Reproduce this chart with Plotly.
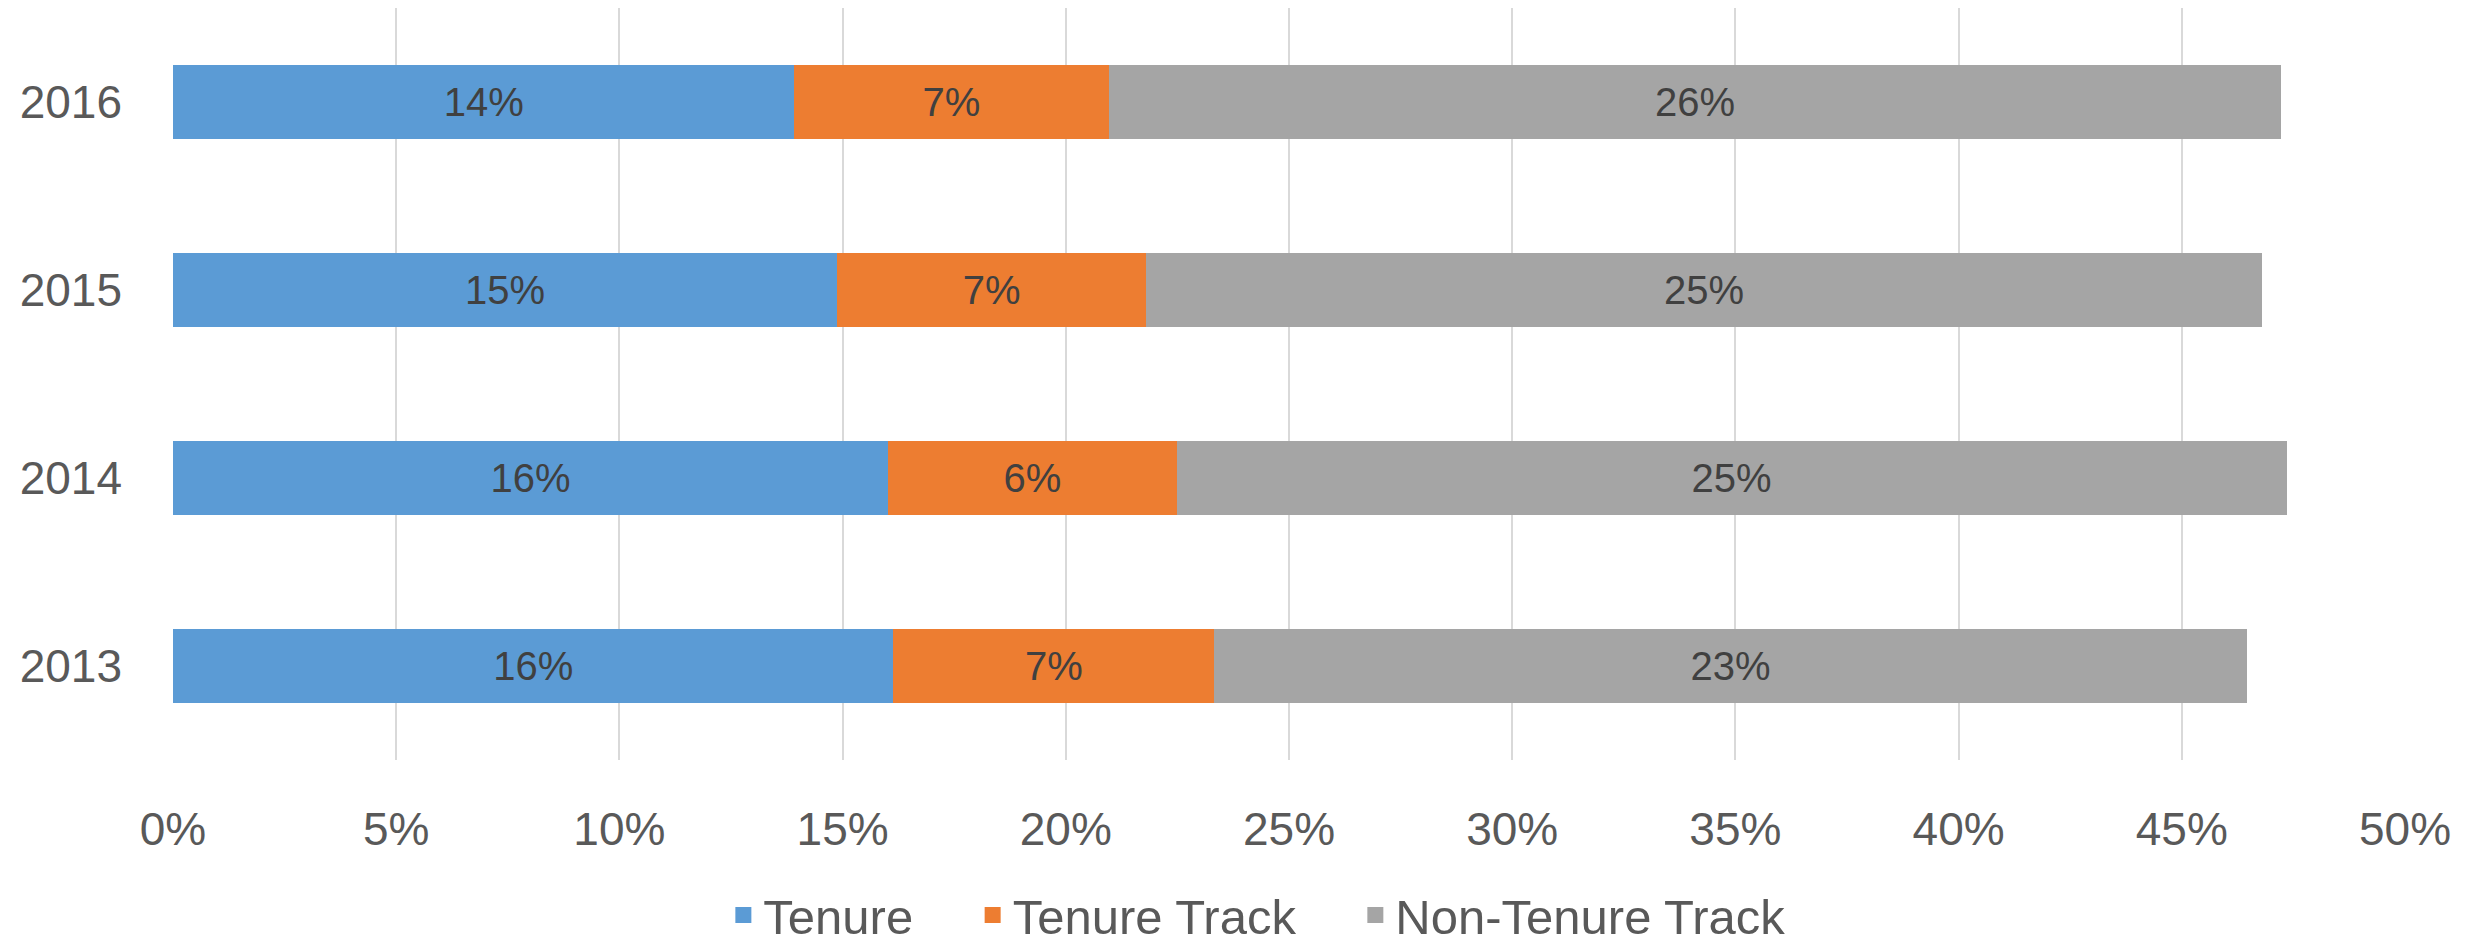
import plotly.graph_objects as go

years = ["2013", "2014", "2015", "2016"]
tenure = [0.1614, 0.1602, 0.1488, 0.1392]
tenure_track = [0.0719, 0.0646, 0.0692, 0.0704]
non_tenure_track = [0.2312, 0.2487, 0.2500, 0.2627]

series_names = ["Tenure", "Tenure Track", "Non-Tenure Track"]
series_values = [tenure, tenure_track, non_tenure_track]
series_colors = ["#5B9BD5", "#ED7D31", "#A5A5A5"]

FONT = "Liberation Sans, Arial, sans-serif"
NBSP = "\u00a0"

fig = go.Figure()
for name, vals, color in zip(series_names, series_values, series_colors):
    fig.add_trace(go.Bar(
        y=years, x=vals, name=name, orientation="h",
        marker=dict(color=color, line=dict(width=0)),
        texttemplate="%{x:.0%}", textposition="inside",
        insidetextanchor="middle", textangle=0, constraintext="none",
        textfont=dict(family=FONT, size=40, color="#404040"),
        hoverinfo="skip", showlegend=False, legendgroup=name,
    ))
# legend entries with larger square swatches
for i, (name, color) in enumerate(zip(series_names, series_colors)):
    label = name + (NBSP * 4 if i < len(series_names) - 1 else "")
    fig.add_trace(go.Scatter(
        x=[None], y=[None], mode="markers", name=label, legendgroup=name,
        marker=dict(symbol="square", size=30, color=color),
        showlegend=True, hoverinfo="skip",
    ))

fig.update_layout(
    width=2473, height=940,
    barmode="stack", bargap=0.606,
    paper_bgcolor="white", plot_bgcolor="white",
    margin=dict(l=165, r=76, t=0, b=188, autoexpand=False),
    font=dict(family=FONT, size=46, color="#595959"),
    showlegend=True,
    legend=dict(
        orientation="h", xref="container", yref="container",
        x=0.505, xanchor="center", y=0.035, yanchor="middle",
        font=dict(family=FONT, size=49, color="#595959"),
        itemsizing="trace", itemwidth=30, traceorder="normal",
    ),
)
fig.update_xaxes(
    range=[0, 0.5], dtick=0.05, tickformat=".0%",
    showgrid=True, gridcolor="#D9D9D9", gridwidth=2,
    zeroline=False, showline=False, ticks="",
    ticklabelstandoff=38,
    tickfont=dict(family=FONT, size=46, color="#595959"),
)
fig.update_yaxes(
    type="category", categoryorder="array", categoryarray=years,
    showgrid=False, zeroline=False, showline=False, ticks="",
    ticklabelstandoff=50,
    tickfont=dict(family=FONT, size=46, color="#595959"),
)

fig.write_html("out.html")
